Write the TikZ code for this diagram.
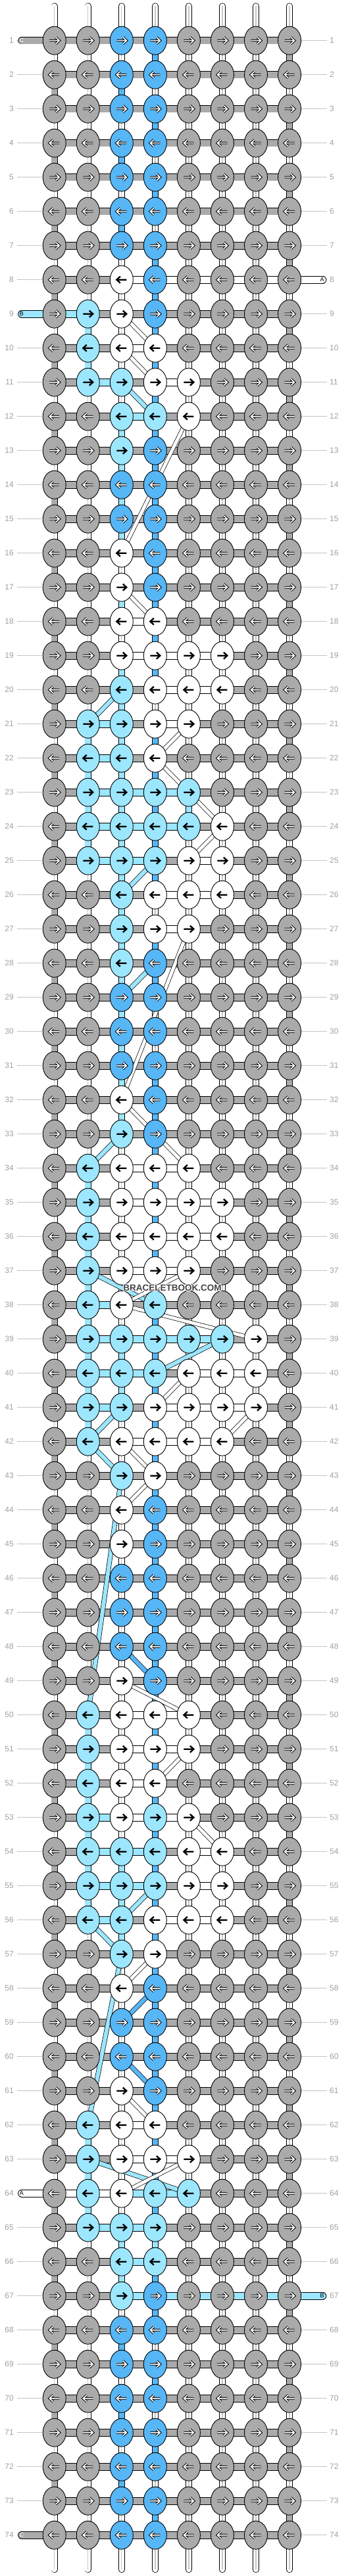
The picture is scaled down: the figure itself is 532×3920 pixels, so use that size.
\documentclass[tikz,border=0pt]{standalone}
\usepackage{fontspec}
\setmainfont{Liberation Sans}
\usetikzlibrary{shapes.geometric}
\definecolor{knotgray}{HTML}{AAAAAA}
\definecolor{knotblue}{HTML}{56B6F6}
\definecolor{knotcyan}{HTML}{9CE6FE}
\definecolor{rowgray}{HTML}{A0A0A0}
\definecolor{linegray}{HTML}{C4C4C4}
\definecolor{markgray}{HTML}{444444}
\pgfdeclarelayer{bars}
\pgfdeclarelayer{diags}
\pgfsetlayers{bars,diags,main}
\tikzset{
  knot/.style={ellipse, draw=black, line width=0.9pt, minimum width=35pt, minimum height=43pt, inner sep=0pt},
  knotG/.style={knot, fill=knotgray},
  knotD/.style={knot, fill=knotblue},
  knotC/.style={knot, fill=knotcyan},
  knotW/.style={knot, fill=white},
  % arrows in the knots
  arrlight/.style={draw=white, line width=1.6pt, preaction={draw=black, line width=3.6pt}},
  arrdark/.style={draw=black, line width=2.3pt},
  arrG/.style={arrlight}, arrD/.style={arrlight},
  arrC/.style={arrdark}, arrW/.style={arrdark},
  % threads between knots
  hbar/.style={line width=10pt, preaction={draw=black, line width=11.6pt}},
  hbarg/.style={hbar, draw=knotgray},
  hbarc/.style={hbar, draw=knotcyan},
  hbarw/.style={hbar, draw=white},
  vbar/.style={line width=8.6pt, preaction={draw=black, line width=10.2pt}},
  vbarg/.style={vbar, draw=knotgray},
  vbarb/.style={vbar, draw=knotblue},
  vbarc/.style={vbar, draw=knotcyan},
  vbarw/.style={vbar, draw=white, postaction={draw=black!22, line width=1.3pt}},
  diagw/.style={draw=white, line width=5pt, preaction={draw=black, line width=6.4pt}},
  diagc/.style={draw=knotcyan, line width=6pt, preaction={draw=black, line width=7.4pt}},
  diagb/.style={draw=knotblue, line width=6pt, preaction={draw=black, line width=7.4pt}},
  pillv/.style={draw=white, line width=8.6pt, line cap=round, preaction={draw=black, line width=10.2pt, line cap=round}, postaction={draw=black!22, line width=1.3pt, line cap=butt}},
  pillh/.style={line width=10pt, line cap=round, preaction={draw=black, line width=11.6pt, line cap=round}},
  pinlabel/.style={font=\fontsize{9}{9}\selectfont, inner sep=0pt},
  rowline/.style={draw=linegray, line width=1pt},
  rownum/.style={font=\fontsize{12}{12}\selectfont, text=rowgray, inner sep=0pt},
  marktext/.style={font=\bfseries\fontsize{13.5}{14}\selectfont, inner sep=0pt}
}
\begin{document}
\begin{tikzpicture}[x=1pt, y=-1pt]
\useasboundingbox (0,0) rectangle (532,3920);
% knots, row threads and row numbers
\foreach \r/\ks/\hs in {
  1/{G,G,D,D,G,G,G,G}/{g,g,g,g,g,g,g},
  2/{G,G,D,D,G,G,G,G}/{g,g,g,g,g,g,g},
  3/{G,G,D,D,G,G,G,G}/{g,g,g,g,g,g,g},
  4/{G,G,D,D,G,G,G,G}/{g,g,g,g,g,g,g},
  5/{G,G,D,D,G,G,G,G}/{g,g,g,g,g,g,g},
  6/{G,G,D,D,G,G,G,G}/{g,g,g,g,g,g,g},
  7/{G,G,D,D,G,G,G,G}/{g,g,g,g,g,g,g},
  8/{G,G,W,D,G,G,G,G}/{g,g,w,w,w,w,w},
  9/{G,C,W,D,G,G,G,G}/{c,g,g,g,g,g,g},
  10/{G,C,W,W,G,G,G,G}/{g,g,w,g,g,g,g},
  11/{G,C,C,W,W,G,G,G}/{g,c,g,w,g,g,g},
  12/{G,G,C,C,W,G,G,G}/{g,g,c,g,g,g,g},
  13/{G,G,C,D,G,G,G,G}/{g,g,g,g,g,g,g},
  14/{G,G,D,D,G,G,G,G}/{g,g,g,g,g,g,g},
  15/{G,G,D,D,G,G,G,G}/{g,g,g,g,g,g,g},
  16/{G,G,W,D,G,G,G,G}/{g,g,g,g,g,g,g},
  17/{G,G,W,D,G,G,G,G}/{g,g,g,g,g,g,g},
  18/{G,G,W,W,G,G,G,G}/{g,g,w,g,g,g,g},
  19/{G,G,W,W,W,W,G,G}/{g,g,w,w,w,g,g},
  20/{G,G,C,W,W,W,G,G}/{g,g,g,w,w,g,g},
  21/{G,C,C,W,W,G,G,G}/{g,c,g,w,g,g,g},
  22/{G,C,C,W,G,G,G,G}/{g,c,g,g,g,g,g},
  23/{G,C,C,C,C,G,G,G}/{g,c,c,c,g,g,g},
  24/{G,C,C,C,C,W,G,G}/{g,c,c,c,g,g,g},
  25/{G,C,C,C,W,W,G,G}/{g,c,c,g,w,g,g},
  26/{G,G,C,W,W,W,G,G}/{g,g,g,w,w,g,g},
  27/{G,G,C,W,W,G,G,G}/{g,g,g,w,g,g,g},
  28/{G,G,C,D,G,G,G,G}/{g,g,g,g,g,g,g},
  29/{G,G,D,D,G,G,G,G}/{g,g,g,g,g,g,g},
  30/{G,G,D,D,G,G,G,G}/{g,g,g,g,g,g,g},
  31/{G,G,D,D,G,G,G,G}/{g,g,g,g,g,g,g},
  32/{G,G,W,D,G,G,G,G}/{g,g,g,g,g,g,g},
  33/{G,G,C,D,G,G,G,G}/{g,g,g,g,g,g,g},
  34/{G,C,W,W,W,G,G,G}/{g,g,w,w,g,g,g},
  35/{G,C,W,W,W,W,G,G}/{g,g,w,w,w,g,g},
  36/{G,C,W,W,W,W,G,G}/{g,g,w,w,w,g,g},
  37/{G,C,W,W,W,G,G,G}/{g,g,w,w,g,g,g},
  38/{G,C,W,C,G,G,G,G}/{g,c,g,g,g,g,g},
  39/{G,C,C,C,C,C,W,G}/{g,c,c,c,c,g,g},
  40/{G,C,C,C,W,W,W,G}/{g,c,c,g,w,w,g},
  41/{G,C,C,W,W,W,W,G}/{g,c,g,w,w,w,g},
  42/{G,C,W,W,W,W,G,G}/{g,g,w,w,w,g,g},
  43/{G,G,C,W,G,G,G,G}/{g,g,g,g,g,g,g},
  44/{G,G,W,D,G,G,G,G}/{g,g,g,g,g,g,g},
  45/{G,G,W,D,G,G,G,G}/{g,g,g,g,g,g,g},
  46/{G,G,D,D,G,G,G,G}/{g,g,g,g,g,g,g},
  47/{G,G,D,D,G,G,G,G}/{g,g,g,g,g,g,g},
  48/{G,G,D,D,G,G,G,G}/{g,g,g,g,g,g,g},
  49/{G,G,W,D,G,G,G,G}/{g,g,g,g,g,g,g},
  50/{G,C,W,W,W,G,G,G}/{g,g,w,w,g,g,g},
  51/{G,C,W,W,W,G,G,G}/{g,g,w,w,g,g,g},
  52/{G,C,W,W,G,G,G,G}/{g,g,w,g,g,g,g},
  53/{G,C,W,C,W,G,G,G}/{g,c,w,w,g,g,g},
  54/{G,C,C,C,W,W,G,G}/{g,c,c,g,w,g,g},
  55/{G,C,C,C,W,W,G,G}/{g,c,c,g,w,g,g},
  56/{G,C,C,W,W,W,G,G}/{g,c,g,w,w,g,g},
  57/{G,G,C,W,G,G,G,G}/{g,g,g,g,g,g,g},
  58/{G,G,W,D,G,G,G,G}/{g,g,g,g,g,g,g},
  59/{G,G,D,D,G,G,G,G}/{g,g,g,g,g,g,g},
  60/{G,G,D,D,G,G,G,G}/{g,g,g,g,g,g,g},
  61/{G,G,W,D,G,G,G,G}/{g,g,g,g,g,g,g},
  62/{G,C,W,W,G,G,G,G}/{g,g,w,g,g,g,g},
  63/{G,C,W,W,W,G,G,G}/{g,g,w,w,g,g,g},
  64/{G,C,W,C,C,G,G,G}/{w,w,c,c,g,g,g},
  65/{G,C,C,C,G,G,G,G}/{g,c,c,g,g,g,g},
  66/{G,G,C,C,G,G,G,G}/{g,g,c,g,g,g,g},
  67/{G,G,C,D,G,G,G,G}/{g,g,c,c,c,c,c},
  68/{G,G,D,D,G,G,G,G}/{g,g,g,g,g,g,g},
  69/{G,G,D,D,G,G,G,G}/{g,g,g,g,g,g,g},
  70/{G,G,D,D,G,G,G,G}/{g,g,g,g,g,g,g},
  71/{G,G,D,D,G,G,G,G}/{g,g,g,g,g,g,g},
  72/{G,G,D,D,G,G,G,G}/{g,g,g,g,g,g,g},
  73/{G,G,D,D,G,G,G,G}/{g,g,g,g,g,g,g},
  74/{G,G,D,D,G,G,G,G}/{g,g,g,g,g,g,g}}{
  \pgfmathsetmacro\yy{61.7+52*(\r-1)}
  \pgfmathtruncatemacro\dir{mod(\r,2)==1 ? 1 : -1}
  \foreach \k [count=\j] in \ks {
    \node[knot\k] (n-\r-\j) at ({82.7+51.05*(\j-1)},\yy) {};
    \draw[arr\k, shift={(n-\r-\j.center)}, xscale=\dir] (-7.5,0) -- (7.5,0) (2,-5) -- (7.5,0) -- (2,5);
  }
  \begin{pgfonlayer}{bars}
    \draw[rowline] (26,\yy) -- (n-\r-1.center);
    \draw[rowline] (n-\r-8.center) -- (497,\yy);
    \foreach \h [count=\j] in \hs {
      \pgfmathtruncatemacro\jn{\j+1}
      \draw[hbar\h] (n-\r-\j.center) -- (n-\r-\jn.center);
    }
  \end{pgfonlayer}
  \node[rownum, anchor=east] (lnum-\r) at (21,\yy) {\r};
  \node[rownum, anchor=west] (rnum-\r) at (501,\yy) {\r};
}
% threads going down
\begin{pgfonlayer}{bars}
\foreach \r/\vs in {
  1/{w,w,w,b,w,w,w,g}, 2/{g,w,b,w,w,w,w,w}, 3/{w,w,w,b,w,w,w,g}, 4/{g,w,b,w,w,w,w,w},
  5/{w,w,w,b,w,w,w,g}, 6/{g,w,b,w,w,w,w,w}, 7/{w,w,w,b,w,w,w,g}, 8/{g,w,w,b,w,w,w,w},
  9/{w,c,w,b,w,w,w,g}, 10/{g,c,w,b,w,w,w,w}, 11/{w,w,w,b,w,w,w,g}, 12/{g,w,c,b,w,w,w,w},
  13/{w,w,c,b,w,w,w,g}, 14/{g,w,c,b,w,w,w,w}, 15/{w,w,c,b,w,w,w,g}, 16/{g,w,w,b,w,w,w,w},
  17/{w,w,c,b,w,w,w,g}, 18/{g,w,w,b,w,w,w,w}, 19/{w,w,c,b,w,w,w,g}, 20/{g,w,c,w,w,w,w,w},
  21/{w,c,c,b,w,w,w,g}, 22/{g,c,c,b,w,w,w,w}, 23/{w,c,c,b,c,w,w,g}, 24/{g,c,c,b,w,w,w,w},
  25/{w,w,c,b,w,w,w,g}, 26/{g,w,c,w,w,w,w,w}, 27/{w,w,c,b,w,w,w,g}, 28/{g,w,c,b,w,w,w,w},
  29/{w,w,c,w,w,w,w,g}, 30/{g,w,c,w,w,w,w,w}, 31/{w,w,c,b,w,w,w,g}, 32/{g,w,c,b,w,w,w,w},
  33/{w,w,w,b,w,w,w,g}, 34/{g,c,w,b,w,w,w,w}, 35/{w,c,w,b,w,w,w,g}, 36/{g,c,w,b,w,w,w,w},
  37/{w,c,w,b,w,w,w,g}, 38/{g,c,w,b,w,w,w,w}, 39/{w,c,c,b,w,w,w,g}, 40/{g,c,c,b,w,w,w,w},
  41/{w,c,w,b,w,w,w,g}, 42/{g,w,w,b,w,w,w,w}, 43/{w,w,w,b,w,w,w,g}, 44/{g,w,w,b,w,w,w,w},
  45/{w,w,w,b,w,w,w,g}, 46/{g,w,w,b,w,w,w,w}, 47/{w,w,w,b,w,w,w,g}, 48/{g,w,w,b,w,w,w,w},
  49/{w,w,w,b,w,w,w,g}, 50/{g,c,w,b,w,w,w,w}, 51/{w,c,w,b,w,w,w,g}, 52/{g,c,w,b,w,w,w,w},
  53/{w,c,w,b,w,w,w,g}, 54/{g,c,c,b,w,w,w,w}, 55/{w,c,c,b,w,w,w,g}, 56/{g,w,c,b,w,w,w,w},
  57/{w,w,w,b,w,w,w,g}, 58/{g,w,w,b,w,w,w,w}, 59/{w,w,w,b,w,w,w,g}, 60/{g,w,w,b,w,w,w,w},
  61/{w,w,w,b,w,w,w,g}, 62/{g,c,w,b,w,w,w,w}, 63/{w,c,w,b,w,w,w,g}, 64/{g,c,w,b,w,w,w,w},
  65/{w,w,c,c,w,w,w,g}, 66/{g,w,c,b,w,w,w,w}, 67/{w,w,w,b,w,w,w,g}, 68/{g,w,b,w,w,w,w,w},
  69/{w,w,w,b,w,w,w,g}, 70/{g,w,b,w,w,w,w,w}, 71/{w,w,w,b,w,w,w,g}, 72/{g,w,b,w,w,w,w,w},
  73/{w,w,w,b,w,w,w,g}}{
  \pgfmathtruncatemacro\rn{\r+1}
  \foreach \v [count=\j] in \vs {
    \draw[vbar\v] (n-\r-\j.center) -- (n-\rn-\j.center);
  }
}
% loose ends at top and bottom
\foreach \j in {1,...,8}{
  \coordinate (top-\j) at ({82.7+51.05*(\j-1)},9.5);
  \coordinate (bot-\j) at ({82.7+51.05*(\j-1)},3910);
  \draw[pillv] (top-\j) -- (n-1-\j.center);
  \draw[pillv] (bot-\j) -- (n-74-\j.center);
}
% threads that come in and go out at the sides
\coordinate (endC1) at (33,61.7);
\coordinate (endA1) at (490.5,425.7);
\coordinate (endB1) at (33,477.7);
\coordinate (endA2) at (33,3337.7);
\coordinate (endB2) at (490.5,3493.7);
\coordinate (endC2) at (33,3857.7);
\draw[pillh, draw=knotgray] (endC1) -- (n-1-1.center);
\draw[pillh, draw=white] (endA1) -- (n-8-8.center);
\draw[pillh, draw=knotcyan] (endB1) -- (n-9-1.center);
\draw[pillh, draw=white] (endA2) -- (n-64-1.center);
\draw[pillh, draw=knotcyan] (endB2) -- (n-67-8.center);
\draw[pillh, draw=knotgray] (endC2) -- (n-74-1.center);
\end{pgfonlayer}
\node[pinlabel, text=white] at (endC1) {C};
\node[pinlabel] at ([xshift=-1]endA1) {A};
\node[pinlabel] at (endB1) {B};
\node[pinlabel] at (endA2) {A};
\node[pinlabel] at ([xshift=-1]endB2) {B};
\node[pinlabel, text=white] at (endC2) {C};
% threads that change columns
\begin{pgfonlayer}{diags}
\foreach \ra/\ja/\rb/\jb/\t in {
  9/3/10/4/w, 10/3/11/4/w, 11/3/12/4/c, 12/5/16/3/w, 17/3/18/4/w,
  20/3/21/2/c, 21/5/22/4/w, 22/4/23/5/w, 23/5/24/6/w, 24/6/25/5/w,
  25/4/26/3/c, 27/5/32/3/w, 28/4/29/3/c, 32/3/33/4/w, 33/3/34/2/c,
  33/4/34/5/w, 37/2/38/4/c, 37/5/38/3/w, 38/3/39/7/w, 39/6/40/4/c,
  40/5/41/4/w, 41/3/42/2/c, 41/7/42/6/w, 42/2/43/3/c, 42/3/43/4/w,
  43/4/44/3/w, 43/3/50/2/c, 48/3/49/4/b, 49/3/50/5/w, 51/5/52/4/w,
  53/5/54/6/w, 55/4/56/3/c, 56/2/57/3/c, 57/4/58/3/w, 57/3/62/2/c,
  58/4/59/3/b, 60/3/61/4/b, 61/3/62/4/w, 63/2/64/5/c, 63/5/64/3/w}{
  \draw[diag\t] (n-\ra-\ja.center) -- (n-\rb-\jb.center);
}
\end{pgfonlayer}
% site mark with a light halo
\foreach \dx/\dy [count=\i] in {-1/0, 1/0, 0/-1, 0/1, -0.7/-0.7, 0.7/-0.7, -0.7/0.7, 0.7/0.7}
  \node[marktext, text=white] (halo-\i) at (262+\dx,1960+\dy) {BRACELETBOOK.COM};
\node[marktext, text=markgray] (mark) at (262,1960) {BRACELETBOOK.COM};
\end{tikzpicture}
\end{document}
